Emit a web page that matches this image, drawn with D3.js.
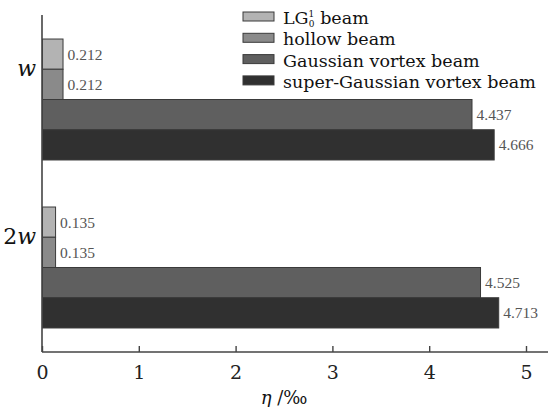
<!DOCTYPE html>
<html>
<head>
<meta charset="utf-8">
<script src="https://cdn.jsdelivr.net/npm/d3@7"></script>
<style>
  body { margin: 0; background: #fff; }
  text { font-family: "DejaVu Serif", serif; }
</style>
</head>
<body>
<div id="chart"></div>
<script>
// categories (top to bottom)
var groups = ["w", "2w"];
var series = ["LG", "hollow beam", "Gaussian vortex beam", "super-Gaussian vortex beam"];
var values = {
    "w":  [0.212, 0.212, 4.437, 4.666],
    "2w": [0.135, 0.135, 4.525, 4.713]
};
var xTicks = [0, 1, 2, 3, 4, 5];
var colors = ["#b3b3b3", "#8a8a8a", "#5f5f5f", "#303030"];

var width = 548, height = 407;
var margin = {top: 15, right: 0, bottom: 55, left: 42};

var svg = d3.select("#chart").append("svg")
            .attr("width", width)
            .attr("height", height);

var x = d3.scaleLinear()
          .domain([0, 5])
          .range([margin.left, 526]);

var y0 = d3.scaleBand()
           .domain(groups)
           .range([margin.top, height - margin.bottom - 0])
           .paddingInner(0.28)
           .paddingOuter(0.143);

var y1 = d3.scaleBand()
           .domain(d3.range(series.length))
           .range([0, y0.bandwidth()]);

var rows = [];
groups.forEach(function(g) {
    values[g].forEach(function(v, i) { rows.push({group: g, i: i, value: v}); });
});

// bars
svg.selectAll("rect.bar")
   .data(rows)
   .enter()
   .append("rect")
   .attr("class", "bar")
   .attr("x", x(0) + 0.5)
   .attr("y", d => y0(d.group) + y1(d.i))
   .attr("width", d => x(d.value) - x(0))
   .attr("height", y1.bandwidth())
   .style("fill", d => colors[d.i])
   .style("stroke", "#3a3a3a")
   .style("stroke-width", 1);

// value labels
svg.selectAll("text.val")
   .data(rows)
   .enter()
   .append("text")
   .attr("class", "val")
   .attr("x", d => x(d.value) + 5)
   .attr("y", d => y0(d.group) + y1(d.i) + y1.bandwidth() / 2)
   .attr("dy", "0.35em")
   .style("font-family", "'Liberation Serif', serif")
   .style("font-size", "15.5px")
   .style("fill", "#555")
   .text(d => d.value.toFixed(3));

// x axis
var xAxis = svg.append("g")
               .attr("transform", "translate(0," + (height - margin.bottom) + ")")
               .call(d3.axisBottom(x).tickValues(xTicks).tickSize(-6).tickSizeOuter(0).tickFormat(d3.format("d")));
xAxis.select(".domain").attr("d", "M" + margin.left + ",0H" + width).style("stroke", "#444").style("stroke-width", 1.6);
xAxis.selectAll(".tick line").style("stroke", "#444").style("stroke-width", 1.4);
xAxis.selectAll(".tick text")
     .attr("y", 14)
     .style("font-family", "'DejaVu Serif', serif")
     .style("font-size", "19px")
     .style("fill", "#222");

// y axis line
svg.append("line")
   .attr("x1", margin.left).attr("x2", margin.left)
   .attr("y1", margin.top).attr("y2", height - margin.bottom)
   .style("stroke", "#444")
   .style("stroke-width", 1.6);

// y category labels
var yl = svg.selectAll("text.cat")
            .data(groups)
            .enter()
            .append("text")
            .attr("class", "cat")
            .attr("x", 36)
            .attr("y", d => y0(d) + y1.bandwidth() + 7)
            .attr("text-anchor", "end")
            .style("font-family", "'DejaVu Serif', serif")
            .style("font-size", "22px")
            .style("fill", "#111");
yl.each(function(d) {
    var t = d3.select(this);
    var m = d.match(/^(\d*)(.*)$/);
    if (m[1]) t.append("tspan").text(m[1]);
    t.append("tspan").style("font-style", "italic").text(m[2]);
});

// x axis title
var xt = svg.append("text")
            .attr("x", 284)
            .attr("y", 404)
            .attr("text-anchor", "middle")
            .style("font-family", "'DejaVu Serif', serif")
            .style("font-size", "18px")
            .style("fill", "#111");
xt.append("tspan").style("font-style", "italic").text("η");
xt.append("tspan").text(" /‰");

// legend
var legend = svg.append("g").attr("transform", "translate(243,12)");
var li = legend.selectAll("g")
               .data(series)
               .enter()
               .append("g")
               .attr("transform", (d, i) => "translate(0," + (i * 21.3) + ")");
li.append("rect")
  .attr("width", 31)
  .attr("height", 9)
  .style("fill", (d, i) => colors[i])
  .style("stroke", "#3a3a3a")
  .style("stroke-width", 1);
var lt = li.append("text")
           .attr("x", 40)
           .attr("y", 12)
           .style("font-size", "17.5px")
           .style("fill", "#111");
lt.each(function(d, i) {
    var t = d3.select(this);
    if (i === 0) {
        t.append("tspan").text("LG");
        t.append("tspan").attr("dy", -7).style("font-size", "9px").text("1");
        t.append("tspan").attr("dy", 10).attr("dx", -5.5).style("font-size", "9px").text("0");
        t.append("tspan").attr("dy", -3).text(" beam");
    } else {
        t.text(d);
    }
});
</script>
</body>
</html>
